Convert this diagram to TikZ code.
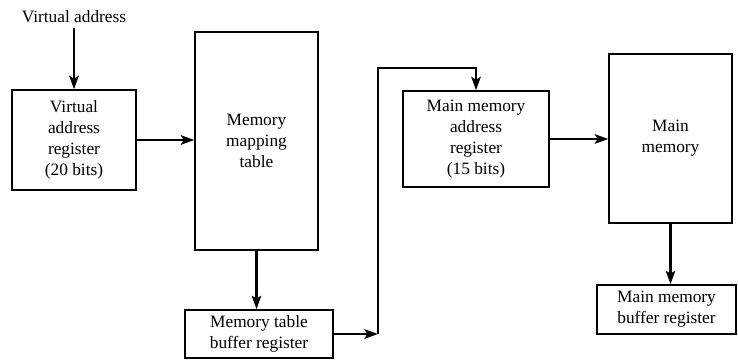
\documentclass[tikz,border=0pt]{standalone}
\usepackage{amsmath}
\usepackage{fontspec}
\setmainfont{Liberation Serif}
\usepackage{tikz}
\usetikzlibrary{arrows.meta}

\tikzset{
  regbox/.style={draw, line width=1.1, inner sep=0pt, align=center,
    font=\fontsize{13}{15.75}\selectfont},
  flow/.style={line width=2.1, -{Stealth[length=10pt,width=7pt,inset=2pt]}}
}

\begin{document}
\begin{tikzpicture}[x=0.75pt,y=0.75pt,yscale=-1,xscale=1]
\useasboundingbox (0,0) rectangle (738,360);

%Text: input label
\node[font=\fontsize{13}{15.75}\selectfont] (va) at (74,17) {Virtual address};
%Shape: Rectangle - virtual address register
\node[regbox, minimum width=93pt, minimum height=75pt] (var) at (74,140) {Virtual\\address\\register\\(20 bits)};
%Shape: Rectangle - memory mapping table
\node[regbox, minimum width=92.25pt, minimum height=163.5pt] (mmt) at (256.5,141) {Memory\\mapping\\table};
%Shape: Rectangle - memory table buffer register
\node[regbox, minimum width=111pt, minimum height=36pt] (mtbr) at (259,334) {Memory table\\buffer register};
%Shape: Rectangle - main memory address register
\node[regbox, minimum width=109.5pt, minimum height=72pt] (mmar) at (476,139) {Main memory\\address\\register\\(15 bits)};
%Shape: Rectangle - main memory
\node[regbox, minimum width=92.25pt, minimum height=126.75pt] (mm) at (670.5,138.5) {Main\\memory};
%Shape: Rectangle - main memory buffer register
\node[regbox, minimum width=104pt, minimum height=36.75pt] (mmbr) at (666.5,309.5) {Main memory\\buffer register};

%Corner points of the feed line
\coordinate (up1) at (378,334);
\coordinate (up2) at (378,68);

%Straight Lines
\draw[flow] (va) -- (va |- var.north);
\draw[flow] (var.east) -- (var.east -| mmt.west);
\draw[flow] (mmt.south) -- (mmt.south |- mtbr.north);
\draw[flow] (mtbr.east) -- (up1);
\draw[flow] (up1) -- (up2) -| (mmar.north);
\draw[flow] (mmar.east) -- (mmar.east -| mm.west);
\draw[flow] (mm.south) -- (mm.south |- mmbr.north);

\end{tikzpicture}
\end{document}
